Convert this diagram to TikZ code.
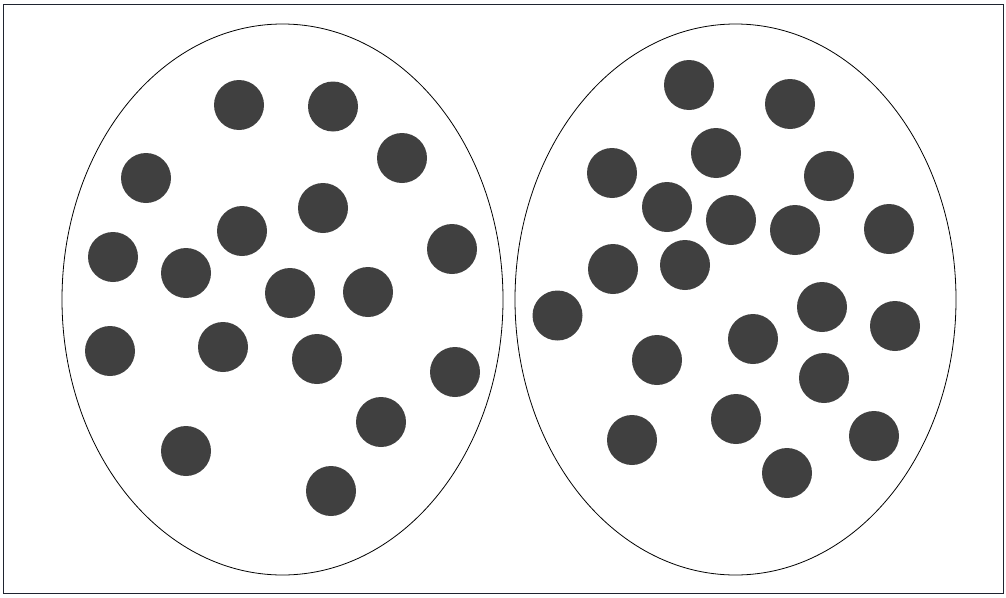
\documentclass[tikz,border=0pt]{standalone}
\begin{document}
\begin{tikzpicture}[x=1pt,y=-1pt,
  dot/.style={circle,fill=dotgray,draw=none,minimum size=50pt,inner sep=0pt},
  grp/.style={ellipse,draw=black,line width=0.8pt,inner sep=0pt}]
\definecolor{dotgray}{HTML}{404040}
\definecolor{frame}{HTML}{1F2430}
\useasboundingbox (0,0) rectangle (1006,597);
\node[draw=frame,line width=1.2pt,minimum width=1000pt,minimum height=589pt,inner sep=0pt] (frame) at (503.5,299) {};
\draw[line width=0.8pt] (282.5,299.5) ellipse [x radius=220.5, y radius=275.5];
\draw[line width=0.8pt] (735.5,299.5) ellipse [x radius=220.5, y radius=275.5];
% left group
\foreach \x/\y [count=\i] in {239/105,333/106.5,402/158,146/178,323/208,242/231,113/257,186/273,452/249,290/293,368/292,110/351,223/347,317/359,455/372,381/422,186/451,331/491}
  \node[dot] (l\i) at (\x,\y) {};
% right group
\foreach \x/\y [count=\i] in {689/85,790/104,716/153,612/173,829/176,667/207,731/220,795/230,889/229,613/269,685/265,557.5/315.5,822/307,895/326,753/339,657/360,824/378,632/440,736/419,874/436,787/473}
  \node[dot] (r\i) at (\x,\y) {};
\end{tikzpicture}
\end{document}
